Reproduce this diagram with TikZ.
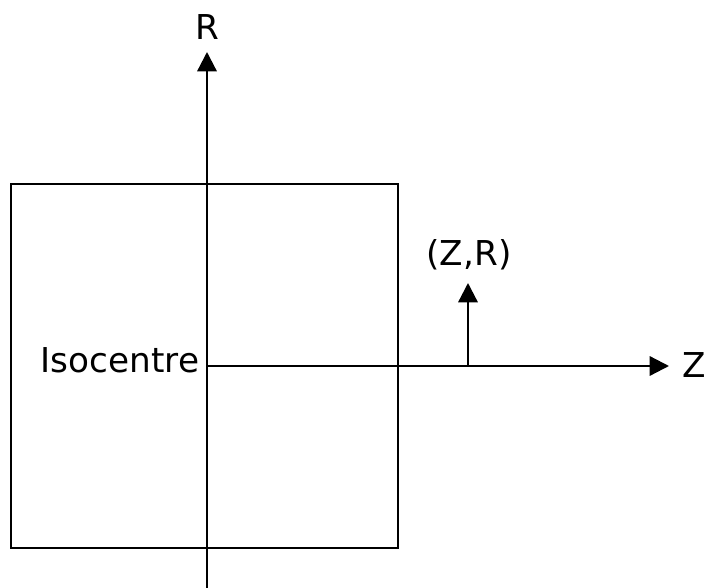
\documentclass[tikz,border=0pt]{standalone}
\usepackage{fontspec}
\setmainfont{DejaVu Sans}
\usetikzlibrary{positioning, arrows.meta}

\begin{document}
\begin{tikzpicture}[
  x=0.02cm, y=-0.02cm,
  axis/.style={line width=1.3pt, -{Triangle[length=11pt, width=11pt]}},
  lbl/.style={font=\fontsize{19.5}{22}\selectfont, inner sep=2pt},
]
\useasboundingbox (0,0) rectangle (707,588);

% Field outline
\draw[line width=1.3pt] (11,184) rectangle (398,548);

% Axes
\coordinate (iso) at (207,366);
\coordinate (rbot) at (207,590);
\coordinate (rtip) at (207,52);
\coordinate (ztip) at (669,366);
\node[lbl] (rlab) at (207,27) {R};
\node[lbl, inner sep=0pt, anchor=east] (zlab) at (706,365) {Z};
\draw[axis] (rbot) -- (rtip);
\draw[axis] (iso) -- (ztip);

% Isocentre
\node[lbl, anchor=east] (isolab) at (203,360) {Isocentre};

% Point
\coordinate (pt) at (468,366);
\coordinate (pttip) at (468,283);
\node[lbl] (ptlab) at (469,255) {(Z,R)};
\draw[axis] (pt) -- (pttip);

\end{tikzpicture}
\end{document}
